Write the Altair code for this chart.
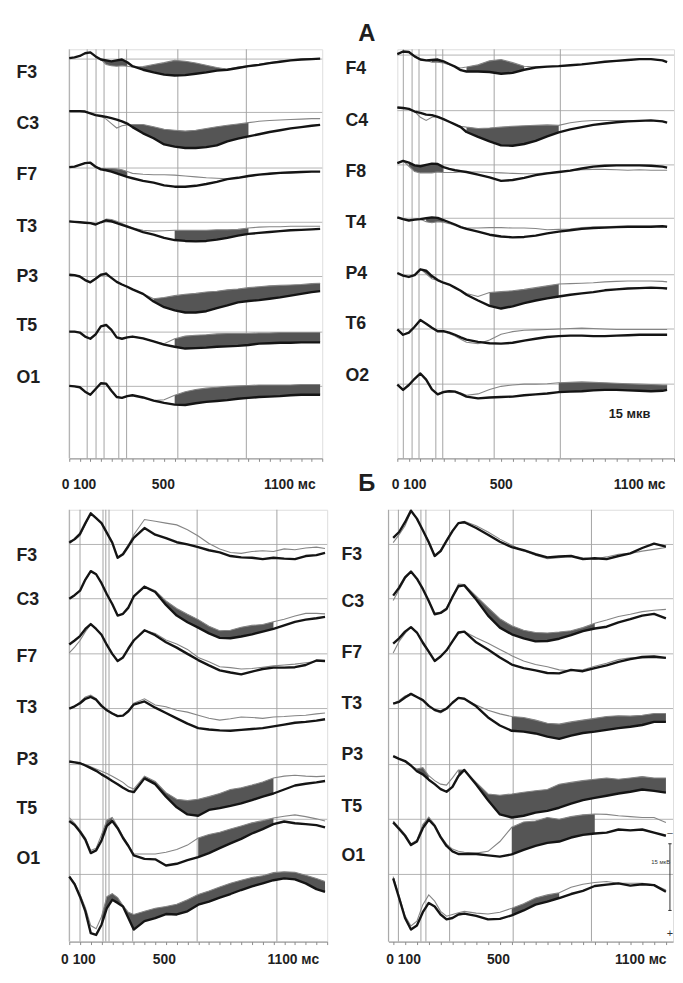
import altair as alt
import pandas as pd

FONT = "Liberation Sans"

# common time grid (ms)
T_BASE = [0, 25, 50, 75, 100, 125, 150, 175, 200, 225, 250, 275, 300,
          350, 400, 450, 500, 550, 600, 650, 700, 750, 800, 850, 900,
          950, 1000, 1050, 1100, 1150]

# ---------------- Panel A, left hemisphere ----------------
AL_T = T_BASE + [1190]
AL_CH = ["F3", "C3", "F7", "T3", "P3", "T5", "O1"]
AL_BASE = [2.2, 14.2, 26.7, 38.9, 51.1, 63.6, 75.8]
AL_LAB = [5.3, 16.7, 28.2, 39.8, 51.1, 62.2, 73.8]
AL_VLINES = [0, 85, 127, 165, 235, 272, 515, 840]
AL_THICK = {
    "F3": [-0.2,-0.4,-0.7,-1.3,-1.5,-0.6,0.1,0.3,0.5,0.3,0.1,0.7,1.6,2.4,3.0,3.5,3.7,3.6,3.3,3.0,2.6,2.4,2.0,1.6,1.3,0.9,0.6,0.3,0.1,0.0,-0.1],
    "C3": [-0.3,-0.3,-0.3,-0.2,0.2,0.6,0.8,1.0,1.3,1.6,2.0,2.5,3.3,4.7,5.8,7.2,7.7,8.0,8.0,7.8,7.4,6.5,5.9,5.4,4.9,4.4,4.0,3.6,3.3,3.0,2.8],
    "F7": [-0.2,-0.3,-0.7,-1.1,-1.2,-0.3,0.3,0.5,0.8,1.2,1.6,2.0,2.3,2.9,3.3,3.9,4.2,4.2,4.0,3.6,3.1,2.5,2.2,1.8,1.5,1.3,1.1,1.0,0.9,0.8,0.8],
    "T3": [-0.2,-0.1,0.0,0.1,0.2,0.5,0.0,-0.4,-0.2,0.2,0.6,1.0,1.4,2.2,2.8,3.5,4.0,4.2,4.3,4.2,3.9,3.5,3.0,2.6,2.4,2.2,2.0,1.8,1.7,1.6,1.5],
    "P3": [-0.4,-0.3,0.0,0.8,1.3,0.5,-0.4,-0.6,0.3,1.2,1.8,2.3,2.9,3.9,5.6,6.9,7.6,8.1,8.1,7.8,7.1,6.5,5.8,5.5,5.3,5.0,4.7,4.3,3.9,3.5,3.3],
    "T5": [-0.1,-0.1,0.1,1.0,1.5,0.5,-1.3,-1.6,-0.5,1.2,1.5,1.2,1.0,1.4,2.1,2.8,3.3,3.7,3.6,3.5,3.3,3.2,3.1,2.9,2.6,2.5,2.4,2.4,2.3,2.3,2.3],
    "O1": [-0.1,0.0,0.2,1.2,1.9,0.6,-0.7,-0.6,1.0,2.4,2.6,2.2,2.0,2.5,3.2,3.7,4.1,4.2,3.8,3.5,3.3,3.1,2.8,2.6,2.4,2.3,2.2,2.0,1.9,1.9,1.9],
}
AL_THIN = {
    "F3": [-0.2,-0.4,-0.7,-1.3,-1.5,-0.6,0.1,1.2,1.5,1.6,1.5,1.6,1.8,1.7,1.2,0.8,0.3,0.5,0.9,1.4,1.9,2.3,1.8,1.5,1.2,0.8,0.5,0.3,0.1,0.0,-0.1],
    "C3": [-0.3,-0.3,-0.3,-0.2,0.2,0.6,0.8,1.5,2.5,3.5,3.0,2.8,2.7,2.7,3.2,3.8,4.0,4.2,4.0,3.6,3.2,2.9,2.6,2.3,2.0,1.8,1.7,1.6,1.5,1.4,1.4],
    "F7": [-0.2,-0.3,-0.7,-1.1,-1.2,-0.3,0.1,0.1,0.1,0.2,0.4,0.8,1.2,1.4,1.5,1.5,1.6,1.8,2.0,2.2,2.3,2.4,2.2,1.9,1.5,1.2,1.0,0.9,0.9,0.8,0.8],
    "T3": [-0.2,-0.1,0.0,0.1,0.2,0.5,0.0,-0.7,-0.6,-0.2,0.3,0.8,1.3,1.8,2.0,1.9,1.8,1.8,1.8,1.8,1.7,1.7,1.6,1.3,1.1,1.0,1.0,0.9,0.9,0.9,0.9],
    "P3": [-0.4,-0.3,0.0,0.8,1.3,0.5,-0.4,-0.9,0.3,1.2,1.8,2.3,2.9,3.9,5.0,4.7,4.3,4.0,3.8,3.5,3.3,3.0,2.8,2.5,2.3,2.1,2.0,1.9,1.8,1.6,1.5],
    "T5": [-0.1,-0.1,0.1,1.0,1.5,0.5,-1.3,-1.6,-0.5,1.2,1.5,1.2,1.0,1.4,2.1,2.6,1.5,0.9,0.7,0.6,0.4,0.3,0.3,0.3,0.2,0.2,0.1,0.1,0.1,0.1,0.1],
    "O1": [-0.1,0.0,0.2,1.2,1.9,0.6,-0.7,-0.6,1.0,2.4,2.6,2.2,2.0,2.5,3.2,3.0,2.0,1.2,0.7,0.4,0.2,0.0,-0.1,-0.2,-0.3,-0.3,-0.3,-0.3,-0.4,-0.4,-0.4],
}
AL_SHADE = {"F3": [(150, 275), (300, 750)], "C3": [(275, 850)], "F7": [(125, 275)],
            "T3": [(175, 250), (500, 850)], "P3": [(400, 1190)], "T5": [(500, 1190)],
            "O1": [(500, 1190)]}

# ---------------- Panel A, right hemisphere ----------------
AR_T = T_BASE + [1170]
AR_CH = ["F4", "C4", "F8", "T4", "P4", "T6", "O2"]
AR_BASE = [1.3, 13.8, 26.0, 38.0, 50.7, 62.9, 75.3]
AR_LAB = [4.4, 16.0, 27.6, 38.9, 50.4, 61.6, 73.3]
AR_VLINES = [26, 64, 94, 167, 197, 420, 707]
AR_THICK = {
    "F4": [-0.2,-0.8,-0.7,0.3,1.0,1.2,1.1,1.0,1.4,2.0,2.6,3.4,3.7,3.7,3.8,4.2,4.0,3.3,2.8,2.6,2.5,2.3,2.1,1.8,1.5,1.3,1.1,0.9,0.9,1.2,1.6],
    "C4": [-0.7,-0.6,-0.4,0.2,0.5,0.9,1.0,1.4,1.9,2.5,3.1,3.7,4.8,5.9,6.9,7.8,7.9,7.5,6.8,5.8,4.9,4.2,3.7,3.2,2.9,2.6,2.4,2.3,2.2,2.4,2.7],
    "F8": [-0.4,-0.9,-0.5,0.1,0.3,0.0,-0.3,-0.2,0.5,0.9,1.2,1.4,1.6,2.2,2.8,3.6,3.4,2.9,2.3,1.9,1.6,1.3,0.8,0.4,0.2,0.1,0.1,0.1,0.2,0.4,0.6],
    "T4": [-0.2,0.2,0.5,0.3,0.2,0.0,-0.2,-0.1,0.4,0.9,1.4,2.0,2.4,3.0,3.7,4.1,4.3,4.2,3.9,3.4,3.0,2.7,2.4,2.2,2.1,2.0,1.9,1.9,1.9,1.8,1.9],
    "P4": [-0.4,0.2,0.5,0.1,-1.2,-0.9,0.3,1.2,1.8,2.2,2.9,3.6,4.5,5.8,7.0,7.6,7.1,6.4,5.8,5.3,4.9,4.5,4.2,3.9,3.5,3.3,3.1,3.0,2.9,3.0,3.1],
    "T6": [0.1,1.3,0.8,-0.5,-2.0,-1.2,-0.3,0.5,0.5,0.8,1.3,1.9,2.4,2.9,3.2,3.3,3.1,2.6,2.2,1.8,1.6,1.5,1.5,1.6,1.6,1.5,1.4,1.3,1.3,1.3,1.3],
    "O2": [0.1,1.3,0.2,-1.2,-2.4,-1.0,1.2,2.3,1.8,1.6,1.7,2.2,2.8,3.2,3.0,2.9,2.8,2.5,2.3,2.1,1.8,1.7,1.6,1.4,1.3,1.3,1.4,1.5,1.6,1.5,1.3],
}
AR_THIN = {
    "F4": [-0.2,-0.8,-0.7,0.3,1.0,1.2,1.6,1.6,1.8,2.2,2.6,2.9,2.7,2.2,1.3,1.0,1.7,2.5,2.7,2.6,2.5,2.3,2.1,1.8,1.5,1.3,1.1,0.9,0.9,1.2,1.6],
    "C4": [-0.7,-0.6,-0.4,0.2,1.5,2.2,1.5,1.3,1.9,2.5,3.1,3.5,3.7,4.0,3.9,3.7,3.5,3.4,3.3,3.2,3.3,2.7,2.4,2.2,2.2,2.2,2.2,2.2,2.2,2.4,2.7],
    "F8": [-0.4,-0.9,0.3,1.5,1.8,1.8,1.8,1.6,1.7,1.7,1.7,1.6,1.6,1.6,1.7,1.8,1.9,2.0,2.0,1.8,1.6,1.3,1.1,1.0,1.0,1.1,1.2,1.1,1.2,1.2,1.2],
    "T4": [-0.2,0.2,0.5,0.3,0.2,0.8,1.0,0.8,0.9,1.2,1.6,2.0,2.2,2.2,2.1,2.1,2.2,2.2,2.3,2.6,2.5,2.4,2.1,2.0,1.9,1.8,1.8,1.8,1.8,1.8,1.9],
    "P4": [-0.4,0.2,0.5,0.1,-1.3,-0.2,0.9,1.3,1.8,2.2,2.9,3.6,4.2,4.9,4.0,3.8,3.6,3.3,2.9,2.5,2.1,2.0,1.9,1.8,1.6,1.5,1.4,1.4,1.4,1.5,1.6],
    "T6": [0.1,1.3,0.8,-0.5,-2.0,-1.2,-0.3,0.5,0.6,1.0,1.6,2.3,3.0,3.3,2.5,1.2,0.6,0.3,0.2,0.1,0.0,-0.1,-0.2,-0.1,0.0,0.1,0.1,0.1,0.1,0.1,0.1],
    "O2": [0.1,1.3,0.2,-1.2,-2.4,-1.0,1.2,2.2,1.6,1.5,1.6,2.0,2.5,2.2,1.2,0.5,0.2,0.0,0.0,-0.1,-0.3,-0.4,-0.5,-0.4,-0.3,-0.2,-0.1,0.0,0.1,0.2,0.2],
}
AR_SHADE = {"F4": [(150, 200), (300, 550)], "C4": [(300, 700)], "F8": [(50, 200)],
            "T4": [(125, 200)], "P4": [(100, 150), (400, 700)], "O2": [(700, 1170)]}

# ---------------- Panel Б, left ----------------
BL_T = T_BASE + [1190]
BL_CH = ["F3", "C3", "F7", "T3", "P3", "T5", "O1"]
BL_BASE = [7.8, 20.0, 32.4, 44.7, 57.3, 69.6, 82.0]
BL_LAB = [10.2, 20.2, 32.9, 44.4, 56.2, 67.3, 78.4]
BL_VLINES = [0, 50, 157, 170, 185, 295, 595, 966]
BL_THICK = {
    "F3": [-0.4,-1.2,-2.4,-4.8,-7.0,-5.9,-4.8,-2.6,-0.4,3.0,2.2,0.4,-1.5,-3.7,-2.2,-1.4,-0.5,0.0,0.6,1.3,1.8,2.6,2.9,3.0,3.3,3.0,3.2,3.3,2.6,2.4,1.9],
    "C3": [0.0,-0.8,-1.8,-4.3,-6.2,-5.5,-3.5,-1.0,1.2,3.8,3.4,2.0,-0.5,-2.7,-1.5,1.4,3.8,5.3,6.5,7.8,8.8,8.9,8.5,8.0,7.4,6.8,6.0,5.2,4.7,4.4,4.1],
    "F7": [-2.1,-3.0,-4.0,-5.6,-6.7,-5.6,-4.3,-2.0,0.0,1.6,0.8,-1.2,-3.0,-5.3,-4.2,-2.6,-1.4,0.0,1.4,2.6,3.7,4.2,4.6,4.0,3.4,3.1,3.1,3.0,2.5,1.5,1.6],
    "T3": [0.0,-0.5,-1.2,-2.2,-2.6,-2.0,-0.6,0.4,1.1,1.7,1.6,0.6,-0.9,-1.6,-0.2,1.0,2.2,3.4,4.4,4.7,4.9,5.0,4.8,4.6,4.4,4.0,3.6,3.2,3.0,2.7,2.4],
    "P3": [-0.7,-0.5,-0.3,0.2,0.8,1.4,2.2,2.9,3.7,4.4,5.2,5.9,6.2,3.1,4.4,7.2,9.6,11.2,11.5,10.2,9.8,9.3,8.7,8.0,7.2,6.5,5.6,4.7,4.3,4.0,3.7],
    "T5": [0.4,1.3,2.8,4.6,7.6,7.0,4.8,1.5,0.4,2.0,4.2,6.0,8.1,8.9,9.0,10.4,10.0,9.2,8.5,7.6,6.5,5.4,4.4,3.2,2.2,1.1,0.5,0.9,1.1,1.3,1.8],
    "O1": [0.5,2.2,5.0,8.3,13.2,13.6,11.3,7.6,5.7,6.4,7.2,9.8,12.4,10.5,9.8,8.9,9.0,8.3,6.8,6.1,5.2,4.4,3.5,2.7,2.0,1.3,0.9,1.1,2.0,3.3,3.9],
}
BL_THIN = {
    "F3": [-0.8,-1.0,-2.0,-4.5,-7.0,-5.9,-4.8,-2.6,-0.4,2.8,2.0,0.1,-2.2,-5.6,-5.2,-4.8,-4.4,-3.3,-1.9,-0.2,1.0,1.8,2.0,1.6,1.4,1.6,1.0,1.2,0.8,0.6,0.9],
    "C3": [0.0,-0.8,-1.8,-4.3,-6.2,-5.5,-3.5,-1.0,1.2,3.8,3.4,2.0,-0.5,-2.8,-1.8,0.5,2.2,3.5,4.7,6.2,7.2,7.1,6.4,6.0,5.8,5.2,4.6,3.9,3.3,3.3,3.4],
    "F7": [-0.2,-1.5,-3.0,-5.0,-6.6,-5.6,-4.3,-2.0,0.0,1.6,0.8,-1.2,-3.0,-5.3,-4.6,-3.1,-2.2,-1.0,0.8,1.8,2.9,3.1,3.4,3.3,3.0,2.7,2.5,2.3,2.0,1.7,1.5],
    "T3": [0.0,-0.5,-1.5,-2.6,-3.0,-2.2,-0.8,0.3,1.0,1.6,1.5,0.5,-1.2,-2.2,-0.8,-0.4,0.4,0.8,1.5,2.2,2.6,2.3,1.9,2.0,2.2,1.9,1.8,1.6,1.5,1.2,1.0],
    "P3": [-0.7,-0.6,-0.4,0.0,0.5,1.0,1.5,2.0,2.6,3.3,4.0,5.0,5.5,2.6,3.8,6.3,7.8,8.1,7.8,7.2,6.5,5.6,5.2,4.6,3.9,3.0,2.6,2.4,2.6,2.7,2.6],
    "T5": [-0.4,0.9,2.4,4.2,7.0,6.5,3.5,0.2,-0.4,1.6,3.8,5.8,7.8,7.8,7.8,7.4,6.8,5.8,4.2,3.4,2.9,2.2,1.5,0.8,0.3,-0.3,-0.7,-1.0,-0.6,-0.1,0.4],
    "O1": [0.3,2.0,4.5,7.5,11.5,12.2,9.5,5.0,4.3,5.2,7.0,8.5,9.0,8.3,7.6,7.2,6.7,5.7,4.5,3.7,2.8,2.0,1.3,0.7,0.3,-0.4,-0.6,-0.5,0.2,0.9,1.6],
}
BL_SHADE = {"C3": [(350, 950)], "P3": [(350, 950)], "T5": [(150, 200), (600, 950)],
            "O1": [(150, 1190)]}

# ---------------- Panel Б, right ----------------
BR_T = list(T_BASE)
BR_CH = ["F3", "C3", "F7", "T3", "P3", "T5", "O1"]
BR_BASE = [7.8, 20.0, 32.4, 44.7, 57.3, 69.6, 82.0]
BR_LAB = [10.0, 20.7, 32.2, 43.6, 55.1, 66.7, 77.8]
BR_VLINES = [-20, 22, 117, 138, 238, 506, 836]
BR_THICK = {
    "F3": [-1.5,-2.8,-5.0,-7.6,-5.8,-3.2,-0.5,2.6,1.5,-0.8,-3.0,-4.8,-5.0,-3.7,-2.2,-0.6,0.6,1.3,2.2,2.9,2.7,2.6,3.3,3.1,3.3,2.6,2.0,0.8,-0.2,0.5],
    "C3": [-0.7,-2.5,-4.8,-6.1,-4.5,-2.2,0.5,3.5,3.2,2.3,-0.4,-2.8,-3.0,0.2,3.8,6.5,8.0,8.9,9.6,9.5,9.0,8.2,7.3,6.7,6.3,5.3,4.6,3.8,3.4,4.4],
    "F7": [-2.3,-3.5,-5.0,-6.0,-4.8,-2.5,-0.5,1.6,0.6,-0.8,-2.8,-4.8,-5.0,-2.6,-1.0,0.8,2.4,3.2,3.7,4.3,4.4,3.6,3.9,3.2,2.6,1.8,1.2,0.7,0.6,0.9],
    "T3": [-1.1,-1.5,-2.5,-3.3,-2.6,-1.9,-0.6,0.3,0.7,0.0,-1.3,-2.4,-2.2,-0.5,2.0,3.8,5.0,5.2,5.6,6.3,6.8,6.1,5.5,5.2,4.8,4.4,4.1,3.7,3.0,3.0],
    "P3": [-1.9,-1.3,-0.8,0.2,1.5,2.2,3.4,4.4,5.5,6.1,5.0,2.6,1.2,4.5,8.0,11.2,11.9,11.5,10.8,10.4,9.7,8.8,8.0,7.5,7.0,6.5,6.1,5.6,5.9,6.3],
    "T5": [0.7,2.2,3.7,5.8,5.0,2.0,0.1,1.5,4.0,6.0,7.2,7.8,7.8,7.8,8.1,8.4,7.9,6.9,6.0,5.3,5.0,4.1,3.5,3.2,3.0,2.3,2.5,2.3,3.0,3.7],
    "O1": [0.9,5.3,9.8,12.4,11.5,8.5,6.4,7.2,9.0,10.1,9.8,9.0,8.8,9.3,10.1,10.0,9.2,8.1,6.8,6.1,5.3,4.4,3.7,2.6,2.3,2.0,2.5,2.2,2.4,3.9],
}
BR_THIN = {
    "F3": [-0.4,-2.2,-4.2,-7.4,-5.8,-3.2,-0.7,2.4,1.3,-1.0,-3.2,-4.8,-5.2,-4.2,-2.8,-1.2,0.2,1.4,2.4,3.2,3.0,2.6,3.0,3.3,2.8,2.2,2.0,1.5,1.1,0.7],
    "C3": [0.4,-2.0,-4.5,-6.1,-4.5,-2.2,0.5,3.3,3.0,2.1,-0.5,-3.3,-3.2,-0.6,2.0,4.5,6.1,7.1,7.6,7.7,7.5,7.2,6.5,5.5,4.8,4.0,3.5,2.9,2.6,2.4],
    "F7": [-0.2,-2.8,-4.6,-6.0,-4.9,-2.8,-0.6,1.6,0.6,-0.8,-2.8,-4.6,-5.0,-3.6,-2.4,-1.0,0.4,1.6,2.4,2.9,3.6,3.8,3.6,2.8,2.1,1.3,0.9,0.9,0.9,0.9],
    "T3": [-1.1,-1.8,-2.8,-3.3,-2.6,-1.9,-0.6,0.5,1.0,0.2,-1.3,-2.4,-2.2,-0.8,0.4,1.2,1.8,2.0,2.6,3.3,3.5,3.0,2.6,2.2,1.8,1.6,1.7,1.5,1.1,1.1],
    "P3": [-1.9,-1.3,-0.6,0.3,1.0,0.7,2.5,3.6,4.4,4.6,3.0,1.2,1.2,4.0,6.6,6.9,6.6,6.2,5.9,5.6,4.4,4.0,3.6,3.3,3.0,3.3,3.0,2.7,3.0,3.0],
    "T5": [0.4,1.8,3.4,5.5,4.7,1.2,-0.5,1.2,3.8,5.6,6.7,7.2,7.4,7.6,7.2,5.0,1.8,0.6,0.4,-0.4,0.0,-0.6,-1.0,-1.2,-1.1,-0.8,-0.6,-0.4,-0.4,0.7],
    "O1": [0.5,4.8,9.3,11.6,10.5,6.8,4.6,6.0,8.3,9.4,9.0,8.6,8.3,8.7,8.9,8.5,7.6,6.6,5.3,4.6,4.1,2.9,2.2,1.8,1.6,2.0,2.0,2.0,2.3,3.5],
}
BR_SHADE = {"C3": [(300, 850)], "T3": [(500, 1150)], "P3": [(100, 150), (275, 1150)],
            "T5": [(125, 175), (500, 850)], "O1": [(500, 700)]}

X_TICK_LABELS = {100: "0 100", 500: "500", 1100: "1100 мс"}

GRID_COLOR = "#b3b3b3"
VLINE_COLOR = "#a3a3a3"
THIN_COLOR = "#858585"
THICK_COLOR = "#141414"
SHADE_COLOR = "#555555"
TEXT_COLOR = "#1e1e1e"


def y_label_expr(names, pos):
    parts = []
    for i in range(len(names) - 1):
        mid = (pos[i] + pos[i + 1]) / 2.0
        parts.append(f"datum.value < {mid:.2f} ? '{names[i]}' : ")
    return "".join(parts) + f"'{names[-1]}'"


def x_label_expr():
    s = " : ".join(f"datum.value == {k} ? '{v}'" for k, v in X_TICK_LABELS.items())
    return s + " : ''"


def make_panel(p):
    T = p["t"]
    rows, srows = [], []
    for ch, base in zip(p["ch"], p["base"]):
        thick, thin = p["thick"][ch], p["thin"][ch]
        assert len(thick) == len(T) and len(thin) == len(T), (p["name"], ch, len(thick), len(thin), len(T))
        for t, a, b in zip(T, thick, thin):
            rows.append({"t": t, "ch": ch, "thick": base + a, "thin": base + b})
        for k, (lo, hi) in enumerate(p["shade"].get(ch, [])):
            for t, a, b in zip(T, thick, thin):
                if lo <= t <= hi:
                    srows.append({"t": t, "seg": f"{ch}-{k}", "thick": base + a, "thin": base + b})
    df = pd.DataFrame(rows)
    sdf = pd.DataFrame(srows)

    xs = alt.Scale(domain=p["xdom"], nice=False, zero=False)
    ys = alt.Scale(domain=[0, p["ydom"]], reverse=True, nice=False, zero=False)
    xax = alt.Axis(values=list(range(0, 1201, 50)), labelExpr=x_label_expr(),
                   labelOffset=p["xoff"], labelPadding=p["xpad"], tickSize=3,
                   tickColor="#8a8a8a", domainColor="#8a8a8a", grid=False,
                   labelFont=FONT, labelFontSize=14, labelFontWeight="bold",
                   labelColor=TEXT_COLOR, labelFlush=False, labelOverlap=False)
    yax = alt.Axis(values=p["lab"], labelExpr=y_label_expr(p["ch"], p["lab"]),
                   labelAlign="left", labelBaseline="middle", labelPadding=p["ypad"],
                   domain=False, ticks=False, grid=False, labelFont=FONT,
                   labelFontSize=18, labelFontWeight="bold", labelColor=TEXT_COLOR,
                   labelFlush=False, labelOverlap=False)

    def X(f="t"):
        return alt.X(f"{f}:Q", scale=xs, axis=xax, title=None)

    def Y(f):
        return alt.Y(f"{f}:Q", scale=ys, axis=yax, title=None)

    hgrid = alt.Chart(pd.DataFrame({"b": p["base"]})).mark_rule(
        color=GRID_COLOR, strokeWidth=1).encode(y=Y("b"))
    vgrid = alt.Chart(pd.DataFrame({"t": p["vlines"]})).mark_rule(
        color=VLINE_COLOR, strokeWidth=1).encode(x=X())
    layers = [hgrid, vgrid]
    if len(sdf):
        layers.append(alt.Chart(sdf).mark_area(color=SHADE_COLOR, opacity=1).encode(
            x=X(), y=Y("thick"), y2="thin:Q", detail="seg:N"))
    layers.append(alt.Chart(df).mark_line(color=THIN_COLOR, strokeWidth=1.1).encode(
        x=X(), y=Y("thin"), detail="ch:N"))
    layers.append(alt.Chart(df).mark_line(color=THICK_COLOR, strokeWidth=2.4,
                                          strokeJoin="round").encode(
        x=X(), y=Y("thick"), detail="ch:N"))
    for extra in p.get("extras", []):
        layers.append(extra(X, Y))
    return alt.layer(*layers).properties(width=p["w"], height=p["h"])


# annotations
def title_a(X, Y):
    return alt.Chart(pd.DataFrame({"s": ["А"]})).mark_text(
        font=FONT, fontSize=24, fontWeight="bold", color=TEXT_COLOR,
        align="center", baseline="middle").encode(
        x=alt.value(-31), y=alt.value(-15), text="s:N")


def title_b(X, Y):
    return alt.Chart(pd.DataFrame({"s": ["Б"]})).mark_text(
        font=FONT, fontSize=24, fontWeight="bold", color=TEXT_COLOR,
        align="center", baseline="middle").encode(
        x=alt.value(-31), y=alt.value(440), text="s:N")


def scale_note_a(X, Y):
    return alt.Chart(pd.DataFrame({"t": [1007], "v": [82.0], "s": ["15 мкв"]})).mark_text(
        font=FONT, fontSize=13, fontWeight="bold", color=TEXT_COLOR,
        align="center", baseline="middle").encode(x=X(), y=Y("v"), text="s:N")


SCALEBAR_T = 1167
SCALEBAR_TOP = 75.1
SCALEBAR_UV = 15


def scale_bar_b(X, Y):
    bar = alt.Chart(pd.DataFrame({"t": [SCALEBAR_T], "v1": [SCALEBAR_TOP],
                                  "v2": [SCALEBAR_TOP + SCALEBAR_UV]})).mark_rule(
        color="#333333", strokeWidth=1).encode(x=X(), y=Y("v1"), y2="v2:Q")
    caps = alt.Chart(pd.DataFrame({"t": [SCALEBAR_T - 7, SCALEBAR_T - 7],
                                   "t2": [SCALEBAR_T + 7, SCALEBAR_T + 7],
                                   "v": [SCALEBAR_TOP, SCALEBAR_TOP + SCALEBAR_UV]})).mark_rule(
        color="#333333", strokeWidth=1).encode(x=X(), x2="t2:Q", y=Y("v"))
    signs = alt.Chart(pd.DataFrame({"t": [SCALEBAR_T, SCALEBAR_T, 1128],
                                    "v": [72.6, 95.3, 79.1],
                                    "s": ["–", "+", "15 мкВ"],
                                    "fs": [10, 11, 6]})).mark_text(
        font=FONT, color="#333333", align="center", baseline="middle").encode(
        x=X(), y=Y("v"), text="s:N", size=alt.Size("fs:Q", scale=None, legend=None))
    return alt.layer(bar, caps, signs)


PANELS = {
    "AL": dict(name="AL", t=AL_T, ch=AL_CH, base=AL_BASE, lab=AL_LAB, vlines=AL_VLINES,
               thick=AL_THICK, thin=AL_THIN, shade=AL_SHADE, xdom=[0, 1200], ydom=92.0,
               w=256, h=414, xoff=-12, xpad=16, ypad=54),
    "AR": dict(name="AR", t=AR_T, ch=AR_CH, base=AR_BASE, lab=AR_LAB, vlines=AR_VLINES,
               thick=AR_THICK, thin=AR_THIN, shade=AR_SHADE, xdom=[0, 1200], ydom=92.0,
               w=280, h=414, xoff=-12, xpad=16, ypad=53,
               extras=[title_a, title_b, scale_note_a]),
    "BL": dict(name="BL", t=BL_T, ch=BL_CH, base=BL_BASE, lab=BL_LAB, vlines=BL_VLINES,
               thick=BL_THICK, thin=BL_THIN, shade=BL_SHADE, xdom=[0, 1200], ydom=97.1,
               w=261, h=437, xoff=-13, xpad=8, ypad=54),
    "BR": dict(name="BR", t=BR_T, ch=BR_CH, base=BR_BASE, lab=BR_LAB, vlines=BR_VLINES,
               thick=BR_THICK, thin=BR_THIN, shade=BR_SHADE, xdom=[-20, 1180], ydom=97.1,
               w=288, h=437, xoff=-14, xpad=8, ypad=48,
               extras=[scale_bar_b]),
}

row_a = alt.hconcat(make_panel(PANELS["AL"]), make_panel(PANELS["AR"]),
                    spacing=76, bounds="flush")
row_b = alt.hconcat(make_panel(PANELS["BL"]), make_panel(PANELS["BR"]),
                    spacing=62, bounds="flush")

chart = alt.vconcat(row_a, row_b, spacing=12).properties(
    padding={"left": 7, "top": 8, "right": 0, "bottom": 0}
).configure_view(stroke=None).configure(background="white", font=FONT)

chart.save("out.html", embed_options={"renderer": "svg", "actions": False})
